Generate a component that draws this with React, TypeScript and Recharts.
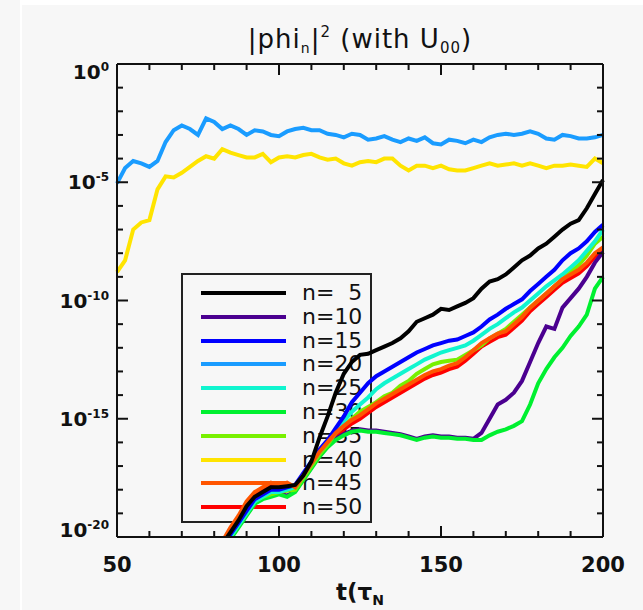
import { LineChart, Line, XAxis, YAxis, Legend, ReferenceLine } from 'recharts';

// time grid (tau_N)
const T = [
  50, 52.5, 55, 57.5, 60, 62.5, 65, 67.5, 70, 72.5,
  75, 77.5, 80, 82.5, 85, 87.5, 90, 92.5, 95, 97.5,
  100, 102.5, 105, 107.5, 110, 112.5, 115, 117.5, 120, 122.5,
  125, 127.5, 130, 132.5, 135, 137.5, 140, 142.5, 145, 147.5,
  150, 152.5, 155, 157.5, 160, 162.5, 165, 167.5, 170, 172.5,
  175, 177.5, 180, 182.5, 185, 187.5, 190, 192.5, 195, 197.5,
  200,
];

// log10 |phi_n|^2
const N5 = [
  null, null, null, null, null, null, null, null, null, null,
  null, null, null, -20.3, -19.8, -19.3, -18.7, -18.3, -18.1, -17.9,
  -17.9, -17.85, -17.8, -17.4, -16.8, -15.8, -14.9, -13.9, -13.1, -12.6,
  -12.3, -12.25, -12.1, -11.95, -11.8, -11.6, -11.3, -10.9, -10.75, -10.6,
  -10.35, -10.4, -10.25, -10.1, -9.9, -9.5, -9.2, -9.1, -8.9, -8.6,
  -8.3, -8.1, -7.8, -7.6, -7.3, -7.0, -6.75, -6.6, -6.1, -5.5,
  -4.9,
];
const N10 = [
  null, null, null, null, null, null, null, null, null, null,
  null, null, null, -20.45, -20.05, -19.55, -19.05, -18.55, -18.35, -18.25,
  -18.15, -18.25, -18.05, -17.55, -17.05, -16.55, -16.15, -15.85, -15.65, -15.5,
  -15.45, -15.5, -15.5, -15.55, -15.6, -15.65, -15.75, -15.85, -15.75, -15.7,
  -15.75, -15.75, -15.8, -15.8, -15.85, -15.6, -15.0, -14.4, -14.2, -13.9,
  -13.4, -12.6, -11.8, -11.1, -11.2, -10.3, -9.9, -9.5, -9.0, -8.4,
  -7.95,
];
const N15 = [
  null, null, null, null, null, null, null, null, null, null,
  null, null, null, -20.3, -19.9, -19.4, -18.9, -18.4, -18.2, -18.0,
  -18.0, -17.9, -17.8, -17.3, -16.8, -16.3, -15.9, -15.4, -14.9, -14.3,
  -13.9, -13.5, -13.2, -13.0, -12.8, -12.6, -12.4, -12.2, -12.05, -11.9,
  -11.8, -11.7, -11.65, -11.5, -11.35, -11.1, -10.8, -10.6, -10.35, -10.15,
  -9.95, -9.6, -9.3, -9.0, -8.7, -8.3, -8.0, -7.8, -7.5, -7.1,
  -6.8,
];
const N20 = [
  -5.05, -4.4, -4.1, -4.2, -4.35, -4.1, -3.3, -2.8, -2.6, -2.75,
  -3.0, -2.3, -2.45, -2.75, -2.6, -2.75, -3.0, -2.8, -2.85, -3.0,
  -3.05, -2.85, -2.75, -2.7, -2.8, -2.8, -2.95, -3.0, -3.1, -2.95,
  -3.0, -3.2, -3.15, -3.05, -3.2, -3.3, -3.15, -3.25, -3.1, -3.35,
  -3.4, -3.2, -3.25, -3.35, -3.2, -3.3, -3.1, -3.0, -2.95, -3.0,
  -2.95, -2.85, -2.95, -3.15, -3.2, -3.0, -3.05, -3.15, -3.15, -3.1,
  -3.0,
];
const N25 = [
  null, null, null, null, null, null, null, null, null, null,
  null, null, null, -20.4, -20.0, -19.5, -19.0, -18.5, -18.3, -18.1,
  -18.1, -18.0, -17.9, -17.4, -16.9, -16.4, -16.0, -15.5, -15.1, -14.7,
  -14.4, -14.1, -13.75, -13.5, -13.3, -13.1, -12.9, -12.7, -12.5, -12.35,
  -12.2, -12.1, -12.0, -11.9, -11.7, -11.45, -11.2, -11.0, -10.75, -10.5,
  -10.3, -10.0, -9.7, -9.4, -9.15, -8.9, -8.6, -8.3, -7.9, -7.5,
  -7.0,
];
const N30 = [
  null, null, null, null, null, null, null, null, null, null,
  null, null, null, -20.5, -20.1, -19.6, -19.1, -18.6, -18.4, -18.3,
  -18.2, -18.3, -18.1, -17.6, -17.1, -16.6, -16.2, -15.9, -15.7, -15.55,
  -15.5, -15.55, -15.55, -15.6, -15.65, -15.7, -15.8, -15.9, -15.8, -15.75,
  -15.8, -15.8, -15.85, -15.85, -15.9, -15.9, -15.7, -15.55, -15.45, -15.3,
  -15.1, -14.4, -13.5, -12.9, -12.4, -12.0, -11.5, -11.1, -10.6, -9.5,
  -9.0,
];
const N35 = [
  null, null, null, null, null, null, null, null, null, null,
  null, null, null, -20.4, -20.0, -19.5, -19.0, -18.5, -18.3, -18.2,
  -18.1, -18.05, -18.0, -17.5, -17.0, -16.5, -16.1, -15.6, -15.3, -15.0,
  -14.7, -14.5, -14.3, -14.05, -13.9, -13.6, -13.4, -13.1, -12.9, -12.7,
  -12.6, -12.55, -12.5, -12.3, -12.1, -11.9, -11.6, -11.4, -11.2, -10.9,
  -10.6, -10.3, -10.0, -9.7, -9.4, -9.1, -8.8, -8.5, -8.1, -7.6,
  -7.3,
];
const N40 = [
  -8.8, -8.3, -7.0, -6.7, -6.6, -5.3, -4.75, -4.8, -4.6, -4.35,
  -4.1, -3.9, -4.0, -3.6, -3.75, -3.85, -3.95, -3.95, -3.8, -4.15,
  -3.95, -3.9, -3.95, -3.85, -3.8, -3.95, -4.05, -4.0, -4.2, -4.3,
  -4.15, -4.1, -4.15, -4.0, -4.0, -4.3, -4.5, -4.3, -4.3, -4.4,
  -4.3, -4.45, -4.5, -4.5, -4.4, -4.3, -4.2, -4.3, -4.25, -4.2,
  -4.3, -4.2, -4.3, -4.4, -4.3, -4.3, -4.25, -4.3, -4.35, -4.0,
  -4.2,
];
const N45 = [
  null, null, null, null, null, null, null, null, null, null,
  null, null, null, -20.2, -19.6, -19.1, -18.5, -18.1, -17.9, -17.7,
  -17.8, -17.7, -17.9, -17.4, -16.9, -16.4, -16.0, -15.6, -15.3, -15.05,
  -14.85, -14.6, -14.35, -14.15, -13.95, -13.75, -13.55, -13.35, -13.15, -13.0,
  -12.9, -12.75, -12.65, -12.4, -12.1, -11.8, -11.6, -11.4, -11.3, -11.0,
  -10.7, -10.3, -10.0, -9.7, -9.4, -9.1, -8.9, -8.7, -8.4, -8.0,
  -7.75,
];
const N50 = [
  null, null, null, null, null, null, null, null, null, null,
  null, null, null, -20.35, -19.75, -19.25, -18.65, -18.25, -18.05, -17.85,
  -17.95, -17.85, -18.05, -17.55, -17.05, -16.55, -16.15, -15.75, -15.45, -15.2,
  -15.0, -14.75, -14.5, -14.3, -14.1, -13.9, -13.7, -13.5, -13.3, -13.15,
  -13.05, -12.9, -12.8, -12.55, -12.25, -11.95, -11.75, -11.55, -11.45, -11.15,
  -10.85, -10.45, -10.15, -9.85, -9.55, -9.25, -9.05, -8.85, -8.55, -8.15,
  -7.9,
];

const SERIES = [
  { key: 'n5', label: 'n=\u20075', color: '#000000', values: N5 },
  { key: 'n10', label: 'n=10', color: '#4b0090', values: N10 },
  { key: 'n15', label: 'n=15', color: '#0000ff', values: N15 },
  { key: 'n20', label: 'n=20', color: '#1a9cff', values: N20 },
  { key: 'n25', label: 'n=25', color: '#10f5cf', values: N25 },
  { key: 'n30', label: 'n=30', color: '#00f030', values: N30 },
  { key: 'n35', label: 'n=35', color: '#78f000', values: N35 },
  { key: 'n40', label: 'n=40', color: '#ffe400', values: N40 },
  { key: 'n45', label: 'n=45', color: '#ff5500', values: N45 },
  { key: 'n50', label: 'n=50', color: '#ff0000', values: N50 },
];

// bottom-to-top drawing order
const DRAW_ORDER = ['n50', 'n10', 'n30', 'n35', 'n25', 'n15', 'n45', 'n20', 'n40', 'n5'];

const X_TICKS = [50, 60, 70, 80, 90, 100, 110, 120, 130, 140, 150, 160, 170, 180, 190, 200];
const Y_TICKS = [-20, -19, -18, -17, -16, -15, -14, -13, -12, -11, -10, -9, -8, -7, -6, -5, -4, -3, -2, -1, 0];
const X_MAJOR = [50, 100, 150, 200];
const Y_MAJOR = [-20, -15, -10, -5, 0];

const data = T.map((t, i) => {
  const row: any = { t };
  SERIES.forEach((s) => { row[s.key] = s.values[i]; });
  return row;
});

const AXIS = '#111';
const TICK_FONT = "'DejaVu Sans', sans-serif";

// inward IDL-style ticks, lengths in px converted to data units of the 486x473 plot box
const PX_X = 150 / 486;
const PX_Y = 20 / 473;
const xTickLen = (t: number) => (X_MAJOR.includes(t) ? 11 : 6) * PX_Y;
const yTickLen = (v: number) => (Y_MAJOR.includes(v) ? 11 : 6) * PX_X;

const BottomTick = (props: any) => {
  const { x, y, payload } = props;
  if (!X_MAJOR.includes(payload.value)) return <g />;
  return (
    <text x={x} y={y + 35} textAnchor="middle" fontFamily={TICK_FONT} fontWeight="bold" fontSize={21} fill="#111">
      {payload.value}
    </text>
  );
};

const LeftTick = (props: any) => {
  const { x, y, payload } = props;
  const v = payload.value;
  if (!Y_MAJOR.includes(v)) return <g />;
  // end labels are nudged inside the axis range, as in the original
  const base = v === 0 ? 15 : v === -20 ? 0 : 7;
  return (
    <text x={x - 8} y={y + base} textAnchor="end" fontFamily={TICK_FONT} fontWeight="bold" fontSize={20} fill="#111">
      10<tspan dy={-8} fontSize={12}>{v === 0 ? '0' : '-' + Math.abs(v)}</tspan>
    </text>
  );
};

const TitleLabel = () => (
  <text x={360} y={48} textAnchor="middle" fontFamily={TICK_FONT} fontSize={26} letterSpacing={1} fill="#111">
    |phi<tspan dy={5} fontSize={14}>n</tspan>
    <tspan dy={-5}>|</tspan>
    <tspan dy={-11} fontSize={15}>2</tspan>
    <tspan dy={11}> (with U</tspan>
    <tspan dy={5} fontSize={15}>00</tspan>
    <tspan dy={-5}>)</tspan>
  </text>
);

const XTitle = () => (
  <text x={360} y={600} textAnchor="middle" fontFamily={TICK_FONT} fontWeight="bold" fontSize={23} fill="#111">
    t(τ<tspan dy={5} fontSize={14}>N</tspan>
  </text>
);

const LegendBox = () => (
  <div
    style={{
      position: 'relative',
      width: 191,
      height: 250,
      border: '2px solid #222',
      boxSizing: 'border-box',
    }}
  >
    {SERIES.map((s, i) => {
      const cy = 18 + i * 23.8;
      return (
        <div key={s.key}>
          <div style={{ position: 'absolute', left: 18, top: cy - 2, width: 85, height: 4, background: s.color }} />
          <div
            style={{
              position: 'absolute',
              left: 119,
              top: cy - 13,
              height: 26,
              lineHeight: '26px',
              fontFamily: TICK_FONT,
              fontSize: 22,
              color: '#111',
              whiteSpace: 'pre',
            }}
          >
            {s.label}
          </div>
        </div>
      );
    })}
  </div>
);

export default function App() {
  return (
    <div
      style={{
        position: 'absolute',
        left: 0,
        top: 0,
        width: 643,
        height: 610,
        background: '#f7f7f7',
        zIndex: 0,
        overflow: 'hidden',
      }}
    >
      <div style={{ position: 'absolute', left: 20, top: 0, width: 2, height: 610, background: '#ffffff' }} />
      <div style={{ position: 'absolute', left: 22, top: 0, width: 621, height: 5, background: '#ffffff' }} />
      <LineChart width={643} height={610} data={data} margin={{ top: 63, right: 39, bottom: 13, left: 57 }}>
        <XAxis
          xAxisId="bottom"
          dataKey="t"
          type="number"
          domain={[50, 200]}
          ticks={X_TICKS}
          interval={0}
          height={60}
          tickSize={0}
          tickMargin={0}
          tickLine={false}
          tick={BottomTick}
          axisLine={{ stroke: AXIS, strokeWidth: 2 }}
          label={XTitle}
        />
        <XAxis
          xAxisId="top"
          orientation="top"
          dataKey="t"
          type="number"
          domain={[50, 200]}
          ticks={X_TICKS}
          height={1}
          tick={false}
          tickLine={false}
          axisLine={{ stroke: AXIS, strokeWidth: 2 }}
          label={TitleLabel}
        />
        <YAxis
          yAxisId="left"
          type="number"
          domain={[-20, 0]}
          ticks={Y_TICKS}
          interval={0}
          width={60}
          tickSize={0}
          tickMargin={0}
          tickLine={false}
          tick={LeftTick}
          allowDataOverflow
          axisLine={{ stroke: AXIS, strokeWidth: 2 }}
        />
        <YAxis
          yAxisId="right"
          orientation="right"
          type="number"
          domain={[-20, 0]}
          width={1}
          tick={false}
          tickLine={false}
          allowDataOverflow
          axisLine={{ stroke: AXIS, strokeWidth: 2 }}
        />
        <Legend
          layout="vertical"
          align="center"
          verticalAlign="middle"
          wrapperStyle={{ left: 181, top: 273, width: 191, height: 250, zIndex: -1 }}
          content={() => <LegendBox />}
        />
        {DRAW_ORDER.map((k) => {
          const s = SERIES.find((x) => x.key === k)!;
          return (
            <Line
              key={k}
              xAxisId="bottom"
              yAxisId="left"
              dataKey={k}
              name={s.label}
              type="linear"
              stroke={s.color}
              strokeWidth={4}
              dot={false}
              activeDot={false}
              isAnimationActive={false}
            />
          );
        })}
        {X_TICKS.map((t) => (
          <ReferenceLine
            key={'xb' + t}
            xAxisId="bottom"
            yAxisId="left"
            segment={[{ x: t, y: -20 }, { x: t, y: -20 + xTickLen(t) }]}
            stroke={AXIS}
            strokeWidth={2}
          />
        ))}
        {X_TICKS.map((t) => (
          <ReferenceLine
            key={'xt' + t}
            xAxisId="bottom"
            yAxisId="left"
            segment={[{ x: t, y: 0 }, { x: t, y: -xTickLen(t) }]}
            stroke={AXIS}
            strokeWidth={2}
          />
        ))}
        {Y_TICKS.map((v) => (
          <ReferenceLine
            key={'yl' + v}
            xAxisId="bottom"
            yAxisId="left"
            segment={[{ x: 50, y: v }, { x: 50 + yTickLen(v), y: v }]}
            stroke={AXIS}
            strokeWidth={2}
          />
        ))}
        {Y_TICKS.map((v) => (
          <ReferenceLine
            key={'yr' + v}
            xAxisId="bottom"
            yAxisId="left"
            segment={[{ x: 200, y: v }, { x: 200 - yTickLen(v), y: v }]}
            stroke={AXIS}
            strokeWidth={2}
          />
        ))}
      </LineChart>
    </div>
  );
}
